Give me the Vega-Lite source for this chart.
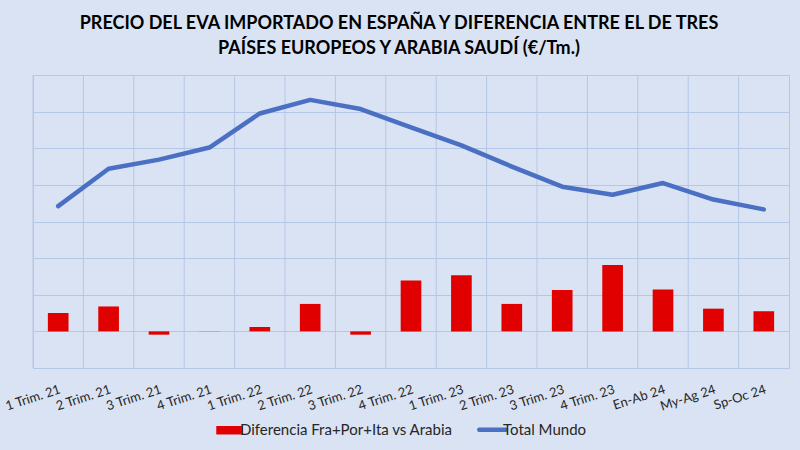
{
  "$schema": "https://vega.github.io/schema/vega-lite/v6.json",
  "width": 756,
  "height": 293,
  "autosize": {"type": "none"},
  "padding": {"left": 33, "top": 75, "right": 11, "bottom": 82},
  "background": "#dae3f3",
  "config": {
    "view": {"stroke": "#b4c7e7", "strokeWidth": 1},
    "font": "Lato",
    "axisY": {"labelOverlap": false}
  },
  "title": {
    "text": ["PRECIO DEL EVA IMPORTADO EN ESPAÑA Y DIFERENCIA ENTRE EL DE TRES", "PAÍSES EUROPEOS Y ARABIA SAUDÍ (€/Tm.)"],
    "font": "Lato",
    "fontSize": 18,
    "fontWeight": "bold",
    "color": "#000000",
    "lineHeight": 25,
    "offset": 17,
    "dx": -12,
    "anchor": "middle"
  },
  "data": {
    "values": [
      {"periodo": "1 Trim. 21", "diferencia": 250, "total": 1710},
      {"periodo": "2 Trim. 21", "diferencia": 340, "total": 2220},
      {"periodo": "3 Trim. 21", "diferencia": -45, "total": 2345},
      {"periodo": "4 Trim. 21", "diferencia": 2, "total": 2510},
      {"periodo": "1 Trim. 22", "diferencia": 60, "total": 2975},
      {"periodo": "2 Trim. 22", "diferencia": 375, "total": 3160},
      {"periodo": "3 Trim. 22", "diferencia": -45, "total": 3035},
      {"periodo": "4 Trim. 22", "diferencia": 695, "total": 2785},
      {"periodo": "1 Trim. 23", "diferencia": 765, "total": 2540},
      {"periodo": "2 Trim. 23", "diferencia": 375, "total": 2250},
      {"periodo": "3 Trim. 23", "diferencia": 565, "total": 1975},
      {"periodo": "4 Trim. 23", "diferencia": 905, "total": 1865},
      {"periodo": "En-Ab 24", "diferencia": 570, "total": 2025},
      {"periodo": "My-Ag 24", "diferencia": 310, "total": 1800},
      {"periodo": "Sp-Oc 24", "diferencia": 275, "total": 1665}
    ]
  },
  "encoding": {
    "x": {
      "field": "periodo",
      "type": "nominal",
      "sort": null,
      "scale": {"paddingInner": 0, "paddingOuter": 0},
      "axis": {
        "title": null,
        "grid": false,
        "ticks": false,
        "domain": false,
        "labelAngle": -18,
        "labelAlign": "right",
        "labelBaseline": "top",
        "labelFontSize": 13,
        "labelColor": "#262626",
        "labelFont": "Lato",
        "labelPadding": 15
      }
    }
  },
  "layer": [
    {
      "mark": {"type": "rule", "color": "#b4c7e7", "strokeWidth": 1},
      "encoding": {
        "x": {"field": "periodo", "type": "nominal", "sort": null, "bandPosition": 0}
      }
    },
    {
      "mark": {"type": "bar", "width": {"band": 0.41}},
      "encoding": {
        "y": {
          "field": "diferencia",
          "type": "quantitative",
          "scale": {"domain": [-500, 3500], "nice": false, "zero": false},
          "axis": {
            "title": null,
            "grid": true,
            "gridColor": "#b4c7e7",
            "gridWidth": 1,
            "labels": false,
            "labelOverlap": false,
            "ticks": false,
            "domain": false,
            "tickCount": 20,
            "values": [-500, 0, 500, 1000, 1500, 2000, 2500, 3000, 3500]
          }
        },
        "color": {
          "datum": "Diferencia Fra+Por+Ita vs Arabia",
          "scale": {
            "domain": ["Diferencia Fra+Por+Ita vs Arabia", "Total Mundo"],
            "range": ["#e00000", "#4a6fc3"]
          },
          "legend": {
            "title": null,
            "orient": "none",
            "legendX": 189,
            "legendY": 347,
            "direction": "horizontal",
            "labelFontSize": 15,
            "labelFont": "Lato",
            "labelColor": "#262626",
            "labelLimit": 0,
            "symbolSize": 700,
            "columnPadding": 17,
            "labelOffset": 3,
            "encode": {
              "symbols": {
                "update": {
                  "shape": {"signal": "datum.value === 'Total Mundo' ? 'M-1,0L1,0' : 'M-1,-0.32H1V0.32H-1Z'"},
                  "strokeWidth": {"signal": "datum.value === 'Total Mundo' ? 4.5 : 0"},
                  "stroke": {"signal": "datum.value === 'Total Mundo' ? '#4a6fc3' : 'transparent'"},
                  "fill": {"signal": "datum.value === 'Total Mundo' ? 'transparent' : '#e00000'"},
                  "strokeCap": {"value": "round"}
                }
              }
            }
          }
        }
      }
    },
    {
      "mark": {"type": "rule", "color": "#dcd0d8", "strokeWidth": 1.5},
      "encoding": {"y": {"datum": 0}}
    },
    {
      "mark": {"type": "line", "strokeWidth": 4.5, "strokeCap": "round", "strokeJoin": "round"},
      "encoding": {
        "y": {
          "field": "total",
          "type": "quantitative",
          "axis": {
            "title": null,
            "grid": true,
            "gridColor": "#b4c7e7",
            "gridWidth": 1,
            "labels": false,
            "labelOverlap": false,
            "ticks": false,
            "domain": false,
            "tickCount": 20,
            "values": [-500, 0, 500, 1000, 1500, 2000, 2500, 3000, 3500]
          }
        },
        "color": {"datum": "Total Mundo"}
      }
    }
  ]
}
